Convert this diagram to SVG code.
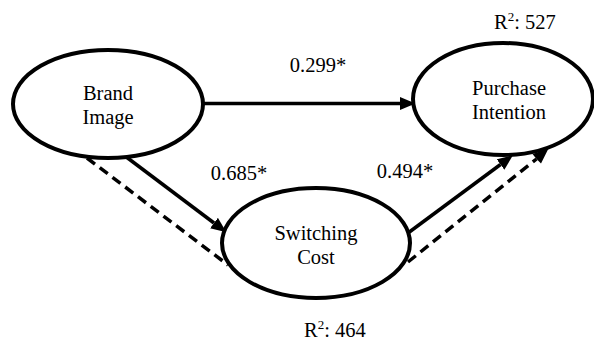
<svg xmlns="http://www.w3.org/2000/svg" width="594" height="343" viewBox="0 0 594 343">
<style>
.node{fill:#fff;stroke:#000;stroke-width:4}
.t{font-size:20.5px;fill:#000;text-anchor:middle}
.c{stroke:#000;stroke-width:3.5;fill:none}
.d{stroke-dasharray:10 6}
.sup{font-size:13px}
</style>
<defs>
<marker id="ah" markerUnits="userSpaceOnUse" markerWidth="16" markerHeight="14" viewBox="0 -7 16 14" refX="0" refY="0" orient="auto">
<path d="M0,-6.5 L15.5,0 L0,6.5 z" fill="#000"/>
</marker>
</defs>
<rect width="594" height="343" fill="#fff"/>
<g id="connectors">
<line class="c" x1="203" y1="103.5" x2="400" y2="103.5" marker-end="url(#ah)"/>
<line class="c" x1="125" y1="156" x2="214" y2="223" marker-end="url(#ah)"/>
<line class="c d" x1="87" y1="158" x2="228" y2="265"/>
<line class="c" x1="408" y1="233" x2="500.5" y2="164.5" marker-end="url(#ah)"/>
<line class="c d" x1="408" y1="262" x2="536.5" y2="159"/>
<path d="M536.5,159 l-4,-5 l16,-5.5 l-7.5,15 z" fill="#000"/>
</g>
<g font-family="'Liberation Serif', 'Times New Roman', serif">
<g id="brand-image">
<ellipse class="node" cx="108" cy="104" rx="95" ry="54"/>
<text class="t" x="108" y="100">Brand</text>
<text class="t" x="108" y="124">Image</text>
</g>
<g id="purchase-intention">
<ellipse class="node" cx="503" cy="99" rx="90" ry="56"/>
<text class="t" x="509" y="95">Purchase</text>
<text class="t" x="509" y="119">Intention</text>
</g>
<g id="switching-cost">
<ellipse class="node" cx="316" cy="243" rx="94" ry="55"/>
<text class="t" x="316" y="240">Switching</text>
<text class="t" x="316" y="264">Cost</text>
</g>
<g id="labels">
<text class="t" x="318" y="72">0.299*</text>
<text class="t" x="239" y="180">0.685*</text>
<text class="t" x="405" y="178">0.494*</text>
<text class="t" x="525" y="29">R<tspan class="sup" dy="-8">2</tspan><tspan dy="8">: 527</tspan></text>
<text class="t" x="335" y="337">R<tspan class="sup" dy="-8">2</tspan><tspan dy="8">: 464</tspan></text>
</g>
</g>
</svg>
